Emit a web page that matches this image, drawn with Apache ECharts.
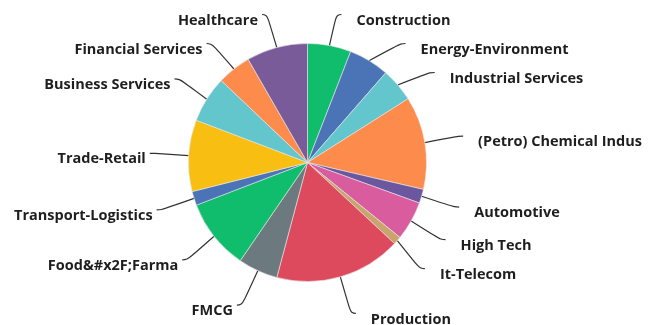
<!DOCTYPE html>
<html>
<head>
<meta charset="utf-8">
<script src="https://cdn.jsdelivr.net/npm/echarts@6/dist/echarts.min.js"></script>
<style>
  html, body { margin: 0; padding: 0; background: #fff; }
  #chart { width: 648px; height: 325px; }
</style>
</head>
<body>
<div id="chart"></div>
<script>
// Sectors, clockwise from 12 o'clock
const sectors = [
  'Construction', 'Energy-Environment', 'Industrial Services', '(Petro) Chemical Indus',
  'Automotive', 'High Tech', 'It-Telecom', 'Production', 'FMCG', 'Food&#x2F;Farma',
  'Transport-Logistics', 'Trade-Retail', 'Business Services', 'Financial Services', 'Healthcare'
];
// Share of each sector (%)
const shares = [5.9, 5.5, 4.6, 12.6, 1.9, 5.3, 1.1, 17.2, 5.4, 9.6, 1.9, 9.7, 6.3, 4.6, 8.3];
const sectorColors = [
  '#0fbd6d', '#4b74b6', '#62c6cc', '#fd8b4c', '#6b579f', '#d95c9f', '#c9a46c', '#dd4a5e',
  '#6c7a80', '#0fbd6d', '#4b74b6', '#f8be12', '#62c6cc', '#fd8b4c', '#7a5b9a'
];

const chart = echarts.init(document.getElementById('chart'));
chart.setOption({
  animation: false,
  series: [{
    type: 'pie',
    // layout box reaches past the canvas edges so the outermost labels are not squeezed inward
    left: 0,
    top: -20,
    width: 648,
    height: 365,
    center: [307.5, 182.5],
    radius: 119,
    startAngle: 90,
    clockwise: true,
    avoidLabelOverlap: true,
    itemStyle: { borderColor: '#e8e8e8', borderWidth: 0.6 },
    label: {
      show: true,
      position: 'outside',
      formatter: '{t|{b}}',
      rich: {
        t: {
          color: '#1e1e1e',
          fontFamily: '"Open Sans", "Noto Sans", sans-serif',
          fontWeight: 'bold',
          fontSize: 14.5,
          lineHeight: 18,
          // text sits a little below the end of its leader line
          padding: [12, 0, 0, 11]
        }
      },
      overflow: 'none',
      distanceToLabelLine: 4
    },
    labelLine: {
      show: true,
      length: 38,
      length2: 5,
      smooth: 0.5,
      lineStyle: { color: '#333', width: 1.2 }
    },
    data: sectors.map((name, i) => ({
      name,
      value: shares[i],
      itemStyle: { color: sectorColors[i] }
    }))
  }]
});
</script>
</body>
</html>
